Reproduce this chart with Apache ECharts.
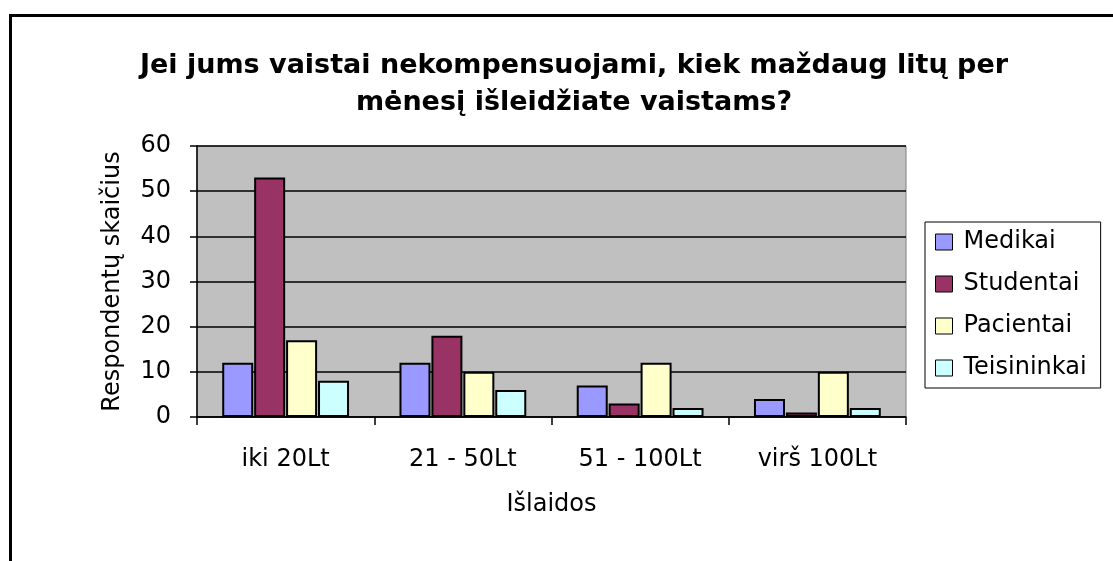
<!DOCTYPE html>
<html>
<head>
<meta charset="utf-8">
<script src="https://cdn.jsdelivr.net/npm/echarts@6/dist/echarts.min.js"></script>
<style>
html,body{margin:0;padding:0;background:#fff;}
#chart{width:1113px;height:561px;}
</style>
</head>
<body>
<div id="chart"></div>
<script>
const categories = ['iki 20Lt', '21 - 50Lt', '51 - 100Lt', 'virš 100Lt'];
const seriesNames = ['Medikai', 'Studentai', 'Pacientai', 'Teisininkai'];
const medikai = [12, 12, 7, 4];
const studentai = [53, 18, 3, 1];
const pacientai = [17, 10, 12, 10];
const teisininkai = [8, 6, 2, 2];
const yTicks = [0, 10, 20, 30, 40, 50, 60];
const colors = ['#9999FF', '#993366', '#FFFFCC', '#CCFFFF'];
const values = [medikai, studentai, pacientai, teisininkai];

const font = 'DejaVu Sans';
const chart = echarts.init(document.getElementById('chart'));
chart.setOption({
  animation: false,
  backgroundColor: '#ffffff',
  title: {
    text: 'Jei jums vaistai nekompensuojami, kiek maždaug litų per\nmėnesį išleidžiate vaistams?',
    left: 569,
    top: 42,
    textAlign: 'center',
    textStyle: { fontFamily: font, fontWeight: 'bold', fontSize: 27, lineHeight: 37, color: '#000' }
  },
  legend: {
    orient: 'vertical',
    left: 925,
    top: 222,
    padding: [6, 14, 6, 10],
    itemGap: 14,
    itemWidth: 17,
    itemHeight: 16,
    icon: 'rect',
    itemStyle: { borderColor: '#000', borderWidth: 1 },
    backgroundColor: '#fff',
    borderColor: '#000',
    borderWidth: 1,
    textStyle: { fontFamily: font, fontSize: 24, lineHeight: 28, color: '#000', padding: [0, 0, 0, 6] },
    data: seriesNames
  },
  grid: {
    left: 197, top: 146, right: 207, bottom: 144,
    show: true, backgroundColor: '#C0C0C0', borderColor: '#808080', borderWidth: 1
  },
  xAxis: {
    type: 'category',
    data: categories,
    name: 'Išlaidos',
    nameLocation: 'middle',
    nameGap: 76,
    nameTextStyle: { fontFamily: font, fontSize: 24, color: '#000' },
    axisLine: { lineStyle: { color: '#000', width: 1.5 } },
    axisTick: { show: true, length: 8, lineStyle: { color: '#000', width: 1.5 } },
    axisLabel: { fontFamily: font, fontSize: 24, color: '#000', margin: 31 },
    splitLine: { show: false }
  },
  yAxis: {
    type: 'value',
    min: yTicks[0], max: yTicks[yTicks.length - 1], interval: 10,
    name: 'Respondentų skaičius',
    nameLocation: 'middle',
    nameGap: 72,
    nameTextStyle: { fontFamily: font, fontSize: 24, color: '#000' },
    axisLine: { show: true, lineStyle: { color: '#000', width: 1.5 } },
    axisTick: { show: true, length: 7, lineStyle: { color: '#000', width: 1.5 } },
    axisLabel: { fontFamily: font, fontSize: 24, color: '#000', margin: 26 },
    splitLine: { show: true, lineStyle: { color: '#000', width: 1.5 } }
  },
  series: seriesNames.map((n, i) => ({
    name: n,
    type: 'bar',
    data: values[i],
    barWidth: 31,
    barGap: '3%',
    itemStyle: { color: colors[i], borderColor: '#000', borderWidth: 2 }
  })),
  graphic: [{
    type: 'polyline',
    shape: { points: [[10.5, 561], [10.5, 15.5], [1113, 15.5]] },
    style: { stroke: '#000', lineWidth: 3, fill: null },
    z: 100
  }]
});
</script>
</body>
</html>
